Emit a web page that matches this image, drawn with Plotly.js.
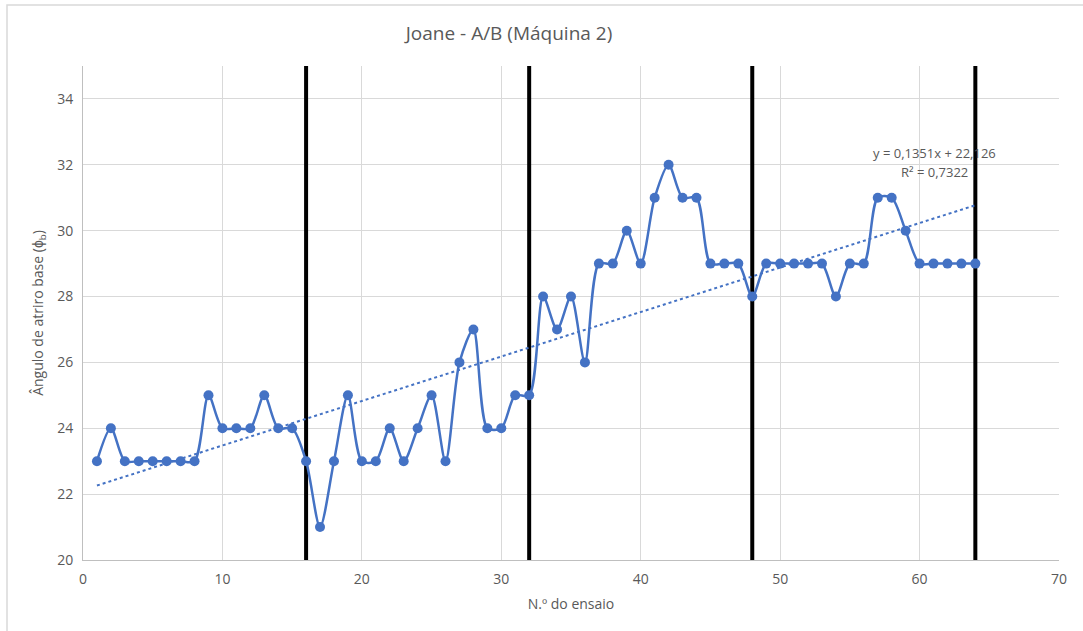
<!DOCTYPE html>
<html>
<head>
<meta charset="utf-8">
<script src="https://cdn.plot.ly/plotly-3.0.1.min.js"></script>
<style>html,body{margin:0;padding:0;background:#fff;}#chart{width:1083px;height:631px;}</style>
</head>
<body>
<div id="chart"></div>
<script>
const ensaio = [1,2,3,4,5,6,7,8,9,10,11,12,13,14,15,16,17,18,19,20,21,22,23,24,25,26,27,28,29,30,31,32,33,34,35,36,37,38,39,40,41,42,43,44,45,46,47,48,49,50,51,52,53,54,55,56,57,58,59,60,61,62,63,64];
const angulo = [23,24,23,23,23,23,23,23,25,24,24,24,25,24,24,23,21,23,25,23,23,24,23,24,25,23,26,27,24,24,25,25,28,27,28,26,29,29,30,29,31,32,31,31,29,29,29,28,29,29,29,29,29,28,29,29,31,31,30,29,29,29,29,29];
const divisores = [16,32,48,64];
const trendSlope = 0.1351;
const trendIntercept = 22.126;
const trendText = ["y = 0,1351x + 22,126", "R² = 0,7322"];

const blue = '#4472C4';
const grey = '#595959';
const traces = [];

divisores.forEach(d => {
  traces.push({x:[d,d], y:[20,35], mode:'lines', line:{color:'#000', width:4}, hoverinfo:'skip', showlegend:false});
});

const tx = [ensaio[0], ensaio[ensaio.length-1]];
traces.push({x:tx, y:tx.map(v => trendSlope*v + trendIntercept), mode:'lines',
  line:{color:blue, width:2, dash:'dot'}, showlegend:false});

traces.push({x:ensaio, y:angulo, mode:'lines+markers',
  line:{color:blue, width:2.5, shape:'spline', smoothing:0.8},
  marker:{color:blue, size:10}, showlegend:false});

const layout = {
  width:1083, height:631,
  margin:{l:83, r:24, t:66, b:71},
  paper_bgcolor:'#fff', plot_bgcolor:'#fff',
  font:{family:'"Open Sans", "Liberation Sans", sans-serif', color:grey, size:14},
  title:{text:'Joane - A/B (Máquina 2)', x:509/1083, xanchor:'center', y:1-33/631, yanchor:'middle',
    font:{size:19, color:grey}},
  xaxis:{range:[0,70], dtick:10, tick0:0, showgrid:true, gridcolor:'#d9d9d9', gridwidth:1,
    zeroline:false, showline:true, linecolor:'#bfbfbf', linewidth:1, ticks:'outside', ticklen:6, tickcolor:'rgba(0,0,0,0)',
    tickfont:{size:14, color:grey},
    title:{text:'N.º do ensaio', font:{size:14, color:grey}, standoff:12}},
  yaxis:{range:[20,35], dtick:2, tick0:20, showgrid:true, gridcolor:'#d9d9d9', gridwidth:1,
    zeroline:false, showline:true, linecolor:'#bfbfbf', linewidth:1, ticks:'outside', ticklen:6, tickcolor:'rgba(0,0,0,0)',
    tickfont:{size:14, color:grey},
    title:{text:'Ângulo de atriro base (ϕ<sub>b</sub>)', font:{size:14, color:grey}, standoff:10}},
  shapes:[
    {type:'rect', xref:'paper', yref:'paper', x0:(7-83)/976, x1:1.2, y0:-0.3, y1:(560-5)/494,
     line:{color:'#d9d9d9', width:1.5}, fillcolor:'rgba(0,0,0,0)', layer:'below'}
  ],
  annotations:[
    {xref:'x', yref:'y', x:(934-83)/976*70, y:20+(560-153)/494*15, text:trendText[0], showarrow:false,
     font:{size:13, color:grey}, xanchor:'center', yanchor:'middle'},
    {xref:'x', yref:'y', x:(934-83)/976*70, y:20+(560-172)/494*15, text:trendText[1], showarrow:false,
     font:{size:13, color:grey}, xanchor:'center', yanchor:'middle'}
  ]
};

Plotly.newPlot('chart', traces, layout, {displayModeBar:false, staticPlot:true});
</script>
</body>
</html>
